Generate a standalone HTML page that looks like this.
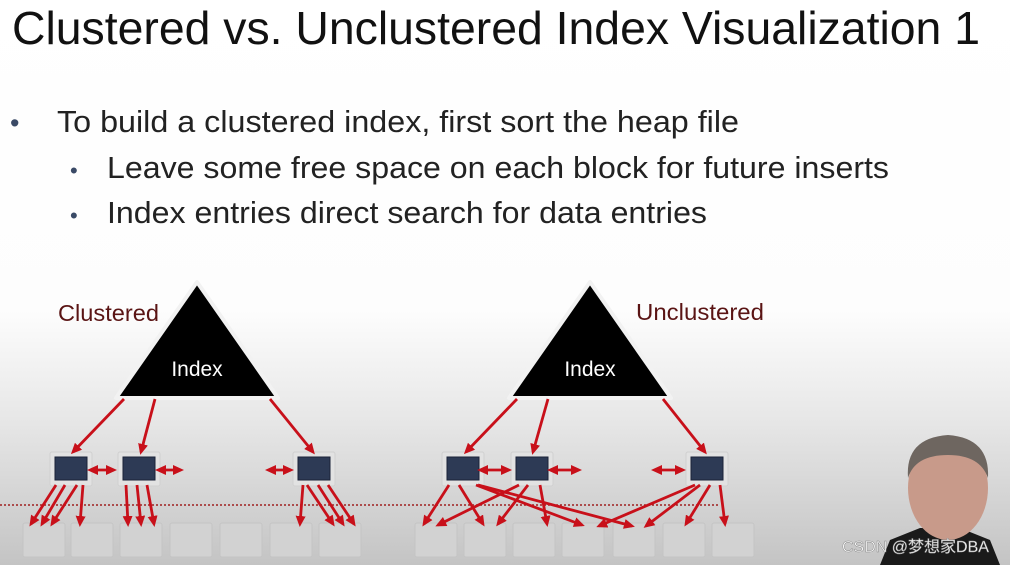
<!DOCTYPE html>
<html><head><meta charset="utf-8"><style>
body{margin:0;width:1010px;height:565px;overflow:hidden;background:#fff;font-family:"Liberation Sans","Noto Sans CJK SC",sans-serif;}
</style></head><body>
<svg width="1010" height="565" xmlns="http://www.w3.org/2000/svg" style="position:absolute;left:0;top:0">
<defs>
<linearGradient id="bg" x1="0" y1="0" x2="0" y2="1">
<stop offset="0" stop-color="#fff"/><stop offset="0.55" stop-color="#fdfdfd"/><stop offset="0.75" stop-color="#e6e6e6"/><stop offset="1" stop-color="#c4c4c4"/>
</linearGradient>
<marker id="ah" markerWidth="11" markerHeight="10" refX="8" refY="5" orient="auto" markerUnits="userSpaceOnUse"><path d="M0,0 L11,5 L0,10 z" fill="#c8101a"/></marker>
<marker id="as" markerWidth="11" markerHeight="10" refX="3" refY="5" orient="auto-start-reverse" markerUnits="userSpaceOnUse"><path d="M0,0 L11,5 L0,10 z" fill="#c8101a"/></marker>
</defs>
<rect width="1010" height="565" fill="url(#bg)"/>
<text x="12" y="44" font-size="46" fill="#111" textLength="968" lengthAdjust="spacingAndGlyphs">Clustered vs. Unclustered Index Visualization 1</text>
<text x="10" y="132" font-size="27" fill="#3a4a66">•</text>
<text x="57" y="132" font-size="31" fill="#222" textLength="682" lengthAdjust="spacingAndGlyphs">To build a clustered index, first sort the heap file</text>
<text x="70" y="178" font-size="22" fill="#3a4a66">•</text>
<text x="107" y="178" font-size="31" fill="#222" textLength="782" lengthAdjust="spacingAndGlyphs">Leave some free space on each block for future inserts</text>
<text x="70" y="223" font-size="22" fill="#3a4a66">•</text>
<text x="107" y="223" font-size="31" fill="#222" textLength="600" lengthAdjust="spacingAndGlyphs">Index entries direct search for data entries</text>
<text x="58" y="321" font-size="23" fill="#5a1414" textLength="101" lengthAdjust="spacingAndGlyphs">Clustered</text>
<text x="636" y="320" font-size="23" fill="#5a1414" textLength="128" lengthAdjust="spacingAndGlyphs">Unclustered</text>
<polygon points="197,282 116,398 278,398" fill="#000" stroke="#f2f2f2" stroke-width="4" stroke-linejoin="round"/>
<polygon points="590,282 509,398 671,398" fill="#000" stroke="#f2f2f2" stroke-width="4" stroke-linejoin="round"/>
<text x="197" y="376" font-size="21" fill="#fff" text-anchor="middle">Index</text>
<text x="590" y="376" font-size="21" fill="#fff" text-anchor="middle">Index</text>
<line x1="0" y1="505" x2="720" y2="505" stroke="#a02020" stroke-width="1.5" stroke-dasharray="2,2"/>
<g fill="#d2d2d2" stroke="#c4c4c4">
<rect x="23" y="523" width="42" height="34" rx="2"/><rect x="71" y="523" width="42" height="34" rx="2"/><rect x="120" y="523" width="42" height="34" rx="2"/><rect x="170" y="523" width="42" height="34" rx="2"/><rect x="220" y="523" width="42" height="34" rx="2"/><rect x="270" y="523" width="42" height="34" rx="2"/><rect x="319" y="523" width="42" height="34" rx="2"/>
<rect x="415" y="523" width="42" height="34" rx="2"/><rect x="464" y="523" width="42" height="34" rx="2"/><rect x="513" y="523" width="42" height="34" rx="2"/><rect x="562" y="523" width="42" height="34" rx="2"/><rect x="613" y="523" width="42" height="34" rx="2"/><rect x="663" y="523" width="42" height="34" rx="2"/><rect x="712" y="523" width="42" height="34" rx="2"/>
</g>
<g fill="#e2e2e2" stroke="#d0d0d0">
<rect x="50" y="452" width="42" height="34" rx="2"/><rect x="118" y="452" width="42" height="34" rx="2"/><rect x="293" y="452" width="42" height="34" rx="2"/>
<rect x="442" y="452" width="42" height="34" rx="2"/><rect x="511" y="452" width="42" height="34" rx="2"/><rect x="686" y="452" width="42" height="34" rx="2"/>
</g>
<g fill="#2d3a55" stroke="#1a2238">
<rect x="55" y="457" width="32" height="23"/><rect x="123" y="457" width="32" height="23"/><rect x="298" y="457" width="32" height="23"/>
<rect x="447" y="457" width="32" height="23"/><rect x="516" y="457" width="32" height="23"/><rect x="691" y="457" width="32" height="23"/>
</g>
<g stroke="#c8101a" stroke-width="2.8" marker-end="url(#ah)">
<line x1="124" y1="399" x2="73" y2="452"/><line x1="155" y1="399" x2="141" y2="452"/><line x1="270" y1="399" x2="313" y2="452"/>
<line x1="517" y1="399" x2="466" y2="452"/><line x1="548" y1="399" x2="533" y2="452"/><line x1="663" y1="399" x2="705" y2="452"/>
<line x1="56" y1="485" x2="31" y2="524"/><line x1="65" y1="485" x2="42" y2="524"/><line x1="77" y1="485" x2="52" y2="524"/><line x1="83" y1="485" x2="80" y2="524"/>
<line x1="126" y1="485" x2="128" y2="524"/><line x1="137" y1="485" x2="141" y2="524"/><line x1="147" y1="485" x2="154" y2="524"/>
<line x1="303" y1="485" x2="300" y2="524"/><line x1="307" y1="485" x2="333" y2="524"/><line x1="318" y1="485" x2="343" y2="524"/><line x1="328" y1="485" x2="354" y2="524"/>
<line x1="449" y1="485" x2="424" y2="524"/><line x1="459" y1="485" x2="483" y2="524"/><line x1="476" y1="485" x2="582" y2="525"/><line x1="478" y1="485" x2="632" y2="526"/>
<line x1="519" y1="485" x2="438" y2="525"/><line x1="528" y1="485" x2="498" y2="524"/><line x1="540" y1="485" x2="547" y2="524"/>
<line x1="695" y1="485" x2="599" y2="526"/><line x1="700" y1="485" x2="646" y2="526"/><line x1="710" y1="485" x2="686" y2="524"/><line x1="720" y1="485" x2="725" y2="524"/>
</g>
<g stroke="#c8101a" stroke-width="2.8" marker-end="url(#ah)" marker-start="url(#as)">
<line x1="95" y1="470" x2="114" y2="470"/><line x1="163" y1="470" x2="181" y2="470"/><line x1="273" y1="470" x2="291" y2="470"/>
<line x1="485" y1="470" x2="509" y2="470"/><line x1="555" y1="470" x2="579" y2="470"/><line x1="659" y1="470" x2="683" y2="470"/>
</g>
<!-- presenter -->
<path d="M880,565 L890,540 L920,528 L960,528 L990,540 L1000,565 Z" fill="#1a1a1a"/>
<ellipse cx="948" cy="488" rx="40" ry="52" fill="#c89a8a"/>
<path d="M908,478 Q905,438 948,435 Q990,438 988,478 Q980,455 948,455 Q915,455 908,478 Z" fill="#6e6660"/>
<text x="842" y="552" font-size="16" fill="#fff" stroke="#888" stroke-width="0.5">CSDN @梦想家DBA</text>
</svg>
</body></html>
